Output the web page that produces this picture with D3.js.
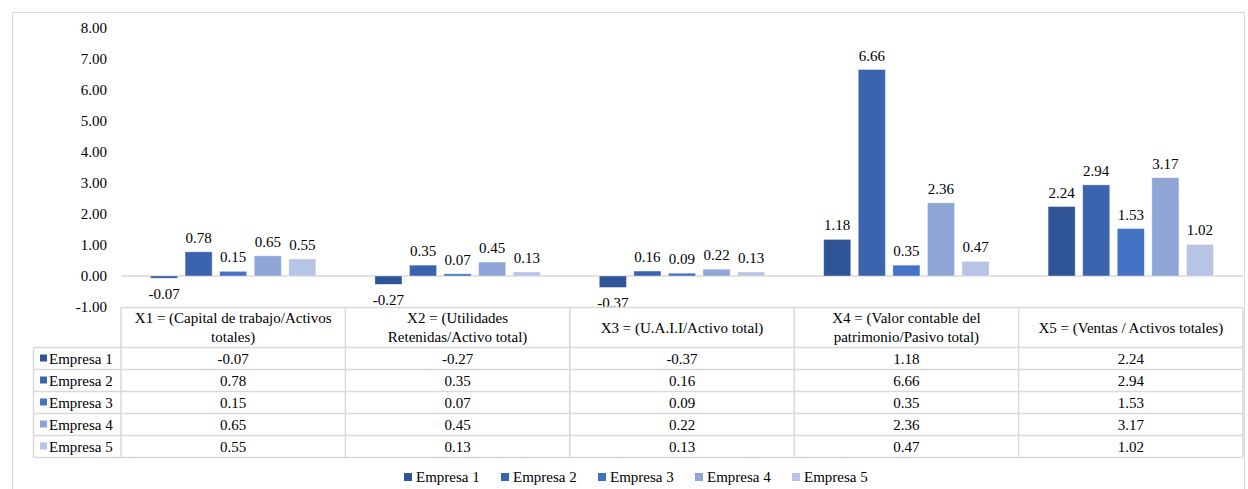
<!DOCTYPE html>
<html>
<head>
<meta charset="utf-8">
<script src="https://cdn.jsdelivr.net/npm/d3@7"></script>
</head>
<body style="margin:0;background:#fff">
<svg id="chart" width="1248" height="489" style="display:block"></svg>
<script>
// Altman Z-score ratios per company
const categories = [
  ["X1 = (Capital de trabajo/Activos", "totales)"],
  ["X2 = (Utilidades", "Retenidas/Activo total)"],
  ["X3 = (U.A.I.I/Activo total)"],
  ["X4 = (Valor contable del", "patrimonio/Pasivo total)"],
  ["X5 = (Ventas / Activos totales)"]
];
const seriesNames = ["Empresa 1", "Empresa 2", "Empresa 3", "Empresa 4", "Empresa 5"];
const empresa1 = [-0.07, -0.27, -0.37, 1.18, 2.24];
const empresa2 = [0.78, 0.35, 0.16, 6.66, 2.94];
const empresa3 = [0.15, 0.07, 0.09, 0.35, 1.53];
const empresa4 = [0.65, 0.45, 0.22, 2.36, 3.17];
const empresa5 = [0.55, 0.13, 0.13, 0.47, 1.02];
const seriesValues = [empresa1, empresa2, empresa3, empresa4, empresa5];
const yTicks = [-1, 0, 1, 2, 3, 4, 5, 6, 7, 8];
const colors = ["#2F5597", "#3A64AD", "#4472C4", "#8EA5D6", "#B8C4E4"];

// two decimals with a plain hyphen for negatives
const fmt = v => v.toFixed(2);
const FONT = "Liberation Serif";
const FS = 15;
const txt = sel => sel.attr("font-family", FONT).attr("font-size", FS).attr("fill", "#000");

const svg = d3.select("#chart");
const gridColor = "#d9d9d9";

// chart frame
svg.append("rect")
  .attr("x", 12.5).attr("y", 12.5)
  .attr("width", 1232).attr("height", 490)
  .attr("fill", "none").attr("stroke", gridColor).attr("stroke-width", 1);

const plotLeft = 121, plotRight = 1243;
const y = d3.scaleLinear().domain([-1, 8]).range([307, 28]);

const catIdx = d3.range(categories.length);
const x0 = d3.scaleBand().domain(catIdx).range([plotLeft, plotRight]).padding(0);
const x1 = d3.scaleBand().domain(d3.range(seriesNames.length))
  .range([29.5, x0.bandwidth() - 29.5]).paddingInner(0.217).paddingOuter(0);

// y axis labels
const yAxis = d3.axisLeft(y).tickValues(yTicks).tickFormat(fmt).tickSize(0).tickPadding(0);
const ya = svg.append("g").attr("transform", "translate(107,0)").call(yAxis);
ya.select(".domain").remove();
ya.selectAll("text").call(txt);

// zero line
svg.append("line")
  .attr("x1", plotLeft).attr("x2", plotRight)
  .attr("y1", y(0)).attr("y2", y(0))
  .attr("stroke", gridColor).attr("stroke-width", 1.3);

// bars
const groups = svg.append("g").selectAll("g")
  .data(catIdx).join("g")
  .attr("transform", d => `translate(${x0(d)},0)`);

groups.selectAll("rect")
  .data(c => seriesValues.map((vals, s) => ({ s, v: vals[c] })))
  .join("rect")
  .attr("x", d => x1(d.s))
  .attr("width", x1.bandwidth())
  .attr("y", d => y(Math.max(0, d.v)))
  .attr("height", d => Math.abs(y(d.v) - y(0)))
  .attr("fill", d => colors[d.s])
  .attr("stroke", "#ffffff").attr("stroke-opacity", 0.45).attr("stroke-width", 0.8);

groups.selectAll("text.lbl")
  .data(c => seriesValues.map((vals, s) => ({ s, v: vals[c] })))
  .join("text")
  .attr("class", "lbl")
  .attr("x", d => x1(d.s) + x1.bandwidth() / 2)
  .attr("y", d => d.v >= 0 ? y(d.v) - 9 : y(d.v) + 21)
  .attr("text-anchor", "middle")
  .call(txt)
  .text(d => fmt(d.v));

// data table
const tableTop = 307.5, headerH = 40, rowH = 22, labelLeft = 33.5;
const tableBottom = tableTop + headerH + rowH * seriesNames.length;
const tbl = svg.append("g");
const lineAttrs = sel => sel.attr("stroke", gridColor).attr("stroke-width", 1.5);

tbl.append("line").attr("x1", plotLeft).attr("x2", plotRight)
  .attr("y1", tableTop).attr("y2", tableTop).call(lineAttrs);
d3.range(seriesNames.length + 1).forEach(i => {
  const yy = tableTop + headerH + i * rowH;
  tbl.append("line").attr("x1", labelLeft).attr("x2", plotRight)
    .attr("y1", yy).attr("y2", yy).call(lineAttrs);
});
tbl.append("line").attr("x1", labelLeft).attr("x2", labelLeft)
  .attr("y1", tableTop + headerH).attr("y2", tableBottom).call(lineAttrs);
catIdx.concat([categories.length]).forEach(i => {
  const xx = i < categories.length ? x0(i) : plotRight;
  tbl.append("line").attr("x1", xx).attr("x2", xx)
    .attr("y1", tableTop).attr("y2", tableBottom).call(lineAttrs);
});

// header texts
catIdx.forEach(i => {
  const lines = categories[i];
  const cx = x0(i) + x0.bandwidth() / 2;
  const cy = tableTop + headerH / 2;
  const lh = 19;
  lines.forEach((ln, k) => {
    tbl.append("text")
      .attr("x", cx)
      .attr("y", cy + (k - (lines.length - 1) / 2) * lh + 5)
      .attr("text-anchor", "middle")
      .call(txt)
      .text(ln);
  });
});

// row labels and values
seriesNames.forEach((name, s) => {
  const cy = tableTop + headerH + s * rowH + rowH / 2;
  tbl.append("rect").attr("x", 40).attr("y", cy - 4).attr("width", 7).attr("height", 7)
    .attr("fill", colors[s]);
  tbl.append("text").attr("x", 49).attr("y", cy + 5).call(txt).text(name);
  catIdx.forEach(i => {
    tbl.append("text")
      .attr("x", x0(i) + x0.bandwidth() / 2)
      .attr("y", cy + 5)
      .attr("text-anchor", "middle")
      .call(txt)
      .text(fmt(seriesValues[s][i]));
  });
});

// legend
const legendX = [404, 501, 598, 695, 792];
const leg = svg.append("g");
seriesNames.forEach((name, s) => {
  leg.append("rect").attr("x", legendX[s]).attr("y", 473).attr("width", 8).attr("height", 8)
    .attr("fill", colors[s]);
  leg.append("text").attr("x", legendX[s] + 12).attr("y", 482).call(txt).text(name);
});
</script>
</body>
</html>
